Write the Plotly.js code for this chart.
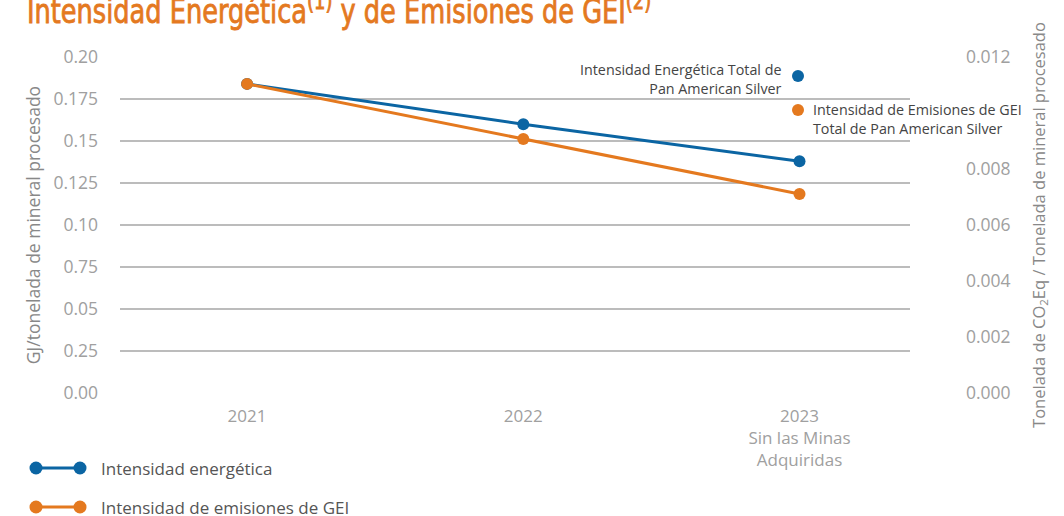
<!DOCTYPE html>
<html><head><meta charset="utf-8">
<script src="https://cdn.plot.ly/plotly-3.0.1.min.js"></script>
<style>html,body{margin:0;padding:0;background:#fff}#chart{width:1064px;height:516px}</style>
</head><body><div id="chart"></div>
<script>
const categories = ["2021", "2022", "2023<br>Sin las Minas<br>Adquiridas"];
const energyIntensity = [0.184, 0.160, 0.138];
const ghgIntensity = [0.01104, 0.00907, 0.00711];
const leftTickVals = [0, 0.025, 0.05, 0.075, 0.10, 0.125, 0.15, 0.175, 0.20];
const leftTickText = ["0.00", "0.25", "0.05", "0.75", "0.10", "0.125", "0.15", "0.175", "0.20"];
const rightTickVals = [0, 0.002, 0.004, 0.006, 0.008, 0.012];
const rightTickText = ["0.000", "0.002", "0.004", "0.006", "0.008", "0.012"];
const seriesNames = ["Intensidad energética", "Intensidad de emisiones de GEI"];

const BLUE = "#0b65a3", ORANGE = "#e4791f";
const FONT = "'Open Sans', Roboto, sans-serif";

// pixel helpers (plot area: x 120..910, y 57..393)
const L = 120, R = 910, T = 57, B = 393;
const px = x => (x - L) / (R - L);
const py = y => (B - y) / (B - T);
function dot(x, y, r, color) {
  return {type: "circle", xref: "paper", yref: "paper",
    x0: px(x - r), x1: px(x + r), y0: py(y + r), y1: py(y - r),
    fillcolor: color, line: {width: 0}};
}
function seg(x0, x1, y, color) {
  return {type: "line", xref: "paper", yref: "paper",
    x0: px(x0), x1: px(x1), y0: py(y), y1: py(y), line: {color: color, width: 3}};
}

const traces = [
  {x: categories, y: energyIntensity, name: seriesNames[0], type: "scatter", mode: "lines+markers",
   line: {color: BLUE, width: 3}, marker: {color: BLUE, size: 12}, yaxis: "y", cliponaxis: false},
  {x: categories, y: ghgIntensity, name: seriesNames[1], type: "scatter", mode: "lines+markers",
   line: {color: ORANGE, width: 3}, marker: {color: ORANGE, size: 12}, yaxis: "y2", cliponaxis: false}
];

const layout = {
  width: 1064, height: 516,
  margin: {l: L, r: 1064 - R, t: T, b: 516 - B},
  paper_bgcolor: "#fff", plot_bgcolor: "#fff",
  showlegend: false,
  font: {family: FONT, color: "#999"},
  title: {text: "Intensidad Energética<sup>(1)</sup> y de Emisiones de GEI<sup>(2)</sup>",
    font: {family: "'Liberation Sans Narrow', 'DejaVu Sans Condensed', sans-serif", size: 28.5, color: "#e4791f"},
    x: 0, xref: "container", xanchor: "left", y: 0.96, yref: "container", yanchor: "bottom", pad: {l: 27}},
  xaxis: {type: "category", range: [-0.46, 2.4], showgrid: false, zeroline: false, showline: false,
    ticks: "", tickfont: {size: 17, color: "#a0a0a0"}, ticklabelstandoff: 11, fixedrange: true},
  yaxis: {range: [0, 0.2], tickvals: leftTickVals, ticktext: leftTickText, showgrid: true,
    gridcolor: "#bcbcbc", gridwidth: 1.3, zeroline: false, showline: false, ticks: "",
    tickfont: {size: 17.5, color: "#a0a0a0"}, ticklabelstandoff: 21,
    title: {text: "GJ/tonelada de mineral procesado", font: {size: 17.5, color: "#888"}, standoff: 8}},
  yaxis2: {range: [0, 0.012], overlaying: "y", side: "right", tickvals: rightTickVals, ticktext: rightTickText,
    showgrid: false, zeroline: false, showline: false, ticks: "",
    tickfont: {size: 17.5, color: "#a0a0a0"}, ticklabelstandoff: 55,
    title: {text: "Tonelada de CO<sub>2</sub>Eq / Tonelada de mineral procesado", font: {size: 16.5, color: "#888"}, standoff: 23}},
  shapes: [
    dot(798, 76, 6, BLUE), dot(798, 110, 6, ORANGE),
    seg(36, 80, 468, BLUE), dot(36, 468, 6.5, BLUE), dot(80, 468, 6.5, BLUE),
    seg(36, 80, 507, ORANGE), dot(36, 507, 6.5, ORANGE), dot(80, 507, 6.5, ORANGE)
  ],
  annotations: [
    {xref: "paper", yref: "paper", x: px(784), y: py(79), xanchor: "right", yanchor: "middle", align: "right",
     showarrow: false, text: "Intensidad Energética Total de<br>Pan American Silver", font: {size: 14.3, color: "#444"}},
    {xref: "paper", yref: "paper", x: px(811), y: py(119), xanchor: "left", yanchor: "middle", align: "left",
     showarrow: false, text: "Intensidad de Emisiones de GEI<br>Total de Pan American Silver", font: {size: 14.3, color: "#444"}},
    {xref: "paper", yref: "paper", x: px(99), y: py(468), xanchor: "left", yanchor: "middle",
     showarrow: false, text: seriesNames[0], font: {size: 17, color: "#555"}},
    {xref: "paper", yref: "paper", x: px(99), y: py(507), xanchor: "left", yanchor: "middle",
     showarrow: false, text: seriesNames[1], font: {size: 17, color: "#555"}}
  ]
};

Plotly.newPlot("chart", traces, layout, {displayModeBar: false, staticPlot: true}).then(gd => {
  // stretch the condensed title vertically around its baseline to mimic the tall condensed face
  const t = gd.querySelector(".gtitle");
  if (t) {
    t.setAttribute("x", 27);
    t.setAttribute("y", 23);
    t.setAttribute("text-anchor", "start");
    t.setAttribute("transform", "translate(0,23) scale(1,1.2) translate(0,-23)");
    t.style.stroke = ORANGE;
    t.style.strokeWidth = "0.7px";
  }
});
</script>
</body></html>
